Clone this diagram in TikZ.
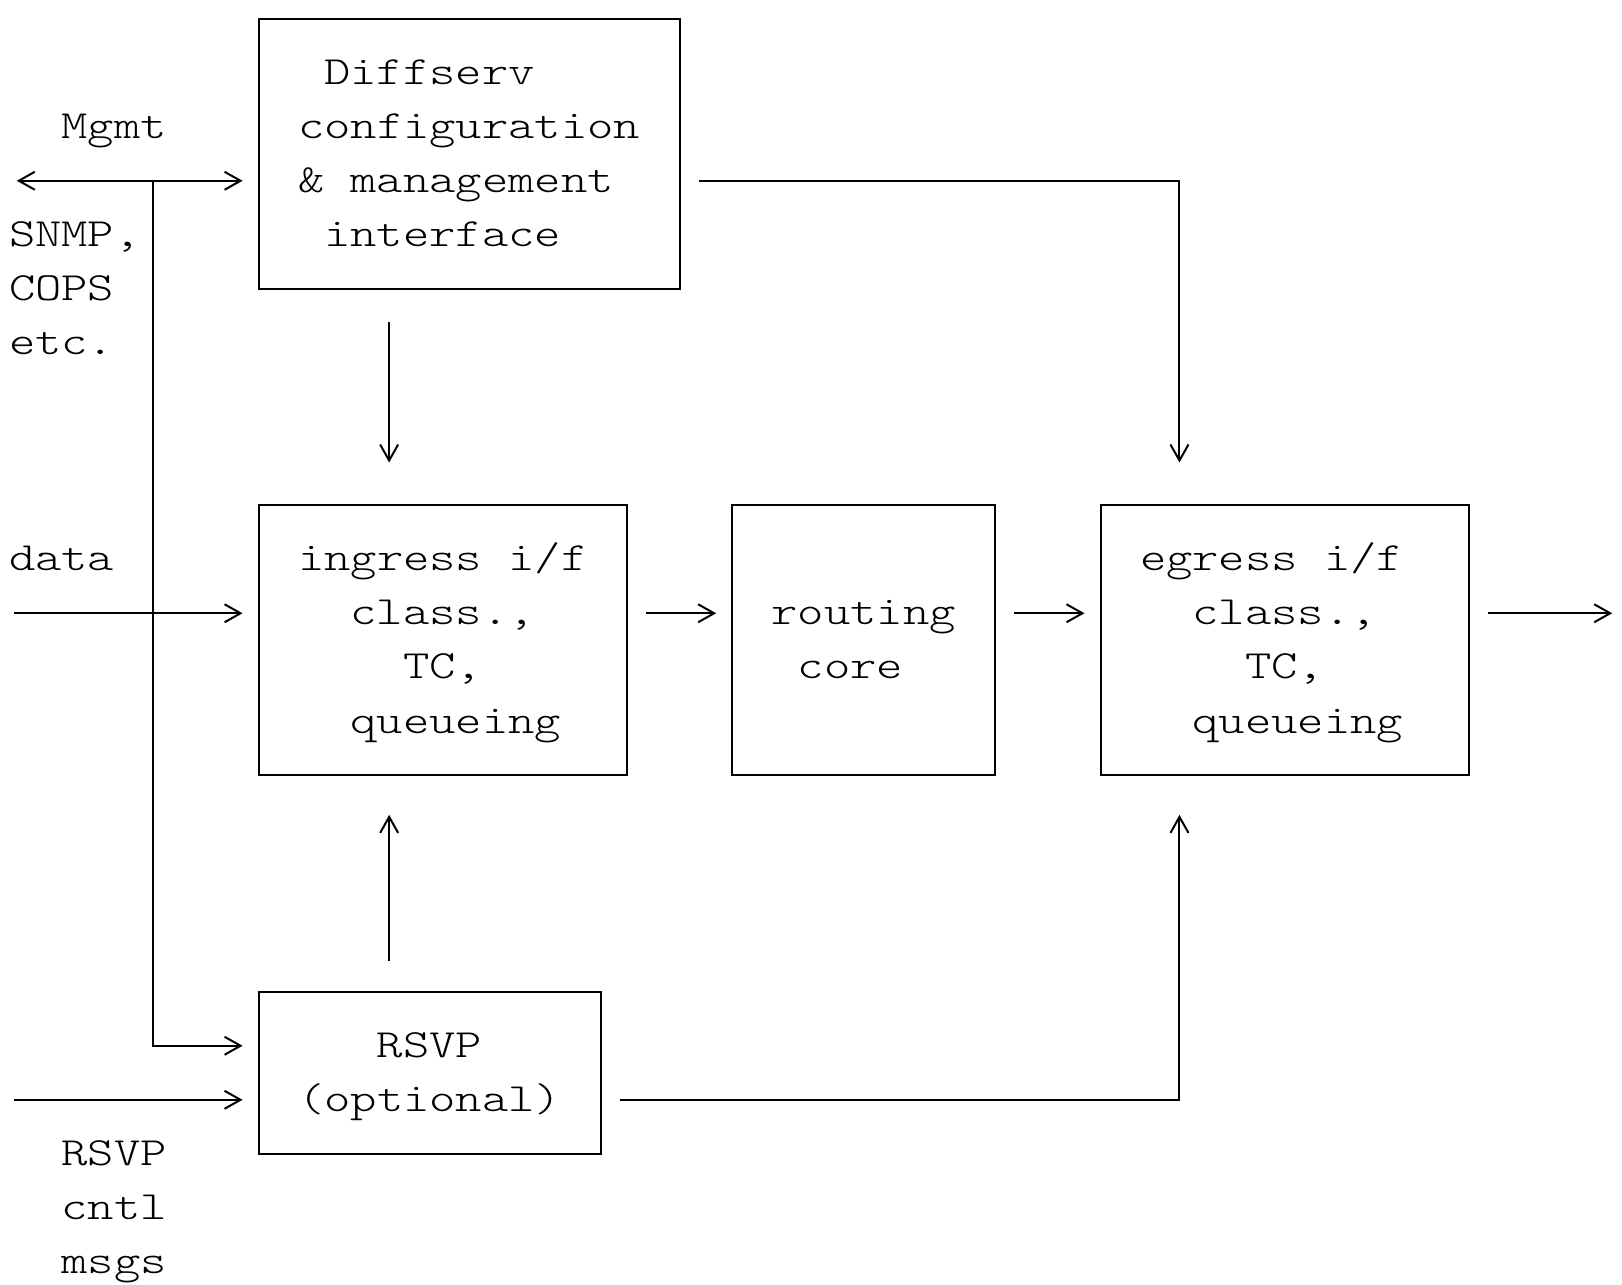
\documentclass[tikz,border=0pt]{standalone}
\usepackage{fontspec}
\usepackage{tikz}
\usetikzlibrary{arrows.meta,calc}

\newfontfamily\asciifont[FakeStretch=1.253]{Latin Modern Mono Light}
\newdimen\cw \cw=13.155pt
\newdimen\rh \rh=27.03pt
\newcommand{\rowstrut}{\rule[-7.7pt]{0pt}{27.03pt}}
\newcommand{\pad}[1]{\kern#1\cw}

\tikzset{
	txt/.style={font=\fontsize{20pt}{27.03pt}\asciifont},
	blk/.style={txt, draw, line width=1pt, inner xsep=1.5\cw, inner ysep=0pt, align=left},
	lbl/.style={txt, inner sep=0pt, anchor=west, align=left},
	wire/.style={line width=1pt, >={Straight Barb[length=8pt,width=9pt]}}
}

\begin{document}
\begin{tikzpicture}[x=13.155pt,y=-27.03pt]
		\useasboundingbox (-0.8286,-0.344) rectangle (60.82,23.41);

		\node[blk, text width=13\cw, minimum height=5\rh] (cfg) at (17,2.5)
			{\rowstrut\pad{1}Diffserv\\\rowstrut configuration\\\rowstrut\&\pad{1}management\\\rowstrut\pad{1}interface};
		\node[blk, text width=11\cw, minimum height=5\rh] (ing) at (16,11.5)
			{\rowstrut ingress\pad{1}i/f\\\rowstrut\pad{2}class.,\\\rowstrut\pad{4}TC,\\\rowstrut\pad{2}queueing};
		\node[blk, text width=7\cw, minimum height=5\rh] (rout) at (32,11.5)
			{\rowstrut routing\\\rowstrut\pad{1}core};
		\node[blk, text width=11\cw, minimum height=5\rh] (egr) at (48,11.5)
			{\rowstrut egress\pad{1}i/f\\\rowstrut\pad{2}class.,\\\rowstrut\pad{4}TC,\\\rowstrut\pad{2}queueing};
		\node[blk, text width=10\cw, minimum height=3\rh] (rsvp) at (15.5,19.5)
			{\rowstrut\pad{3}RSVP\\\rowstrut(optional)};

		\node[lbl] (mgmt) at (1.5,2) {\rowstrut Mgmt};
		\node[lbl] (snmp) at (-0.5,5) {\rowstrut SNMP,\\\rowstrut COPS\\\rowstrut etc.};
		\node[lbl] (data) at (-0.5,10) {\rowstrut data};
		\node[lbl] (cntl) at (1.5,22) {\rowstrut RSVP\\\rowstrut cntl\\\rowstrut msgs};

		\coordinate (mgmtL) at (-0.19,3);
		\coordinate (mgmtJ) at (5,3);
		\coordinate (rsvpJ) at (5,19);
		\coordinate (dataL) at (-0.29,11);
		\coordinate (cntlL) at (-0.29,20);
		\coordinate (cfgR) at (44,3);
		\coordinate (rsvpR) at (44,20);
		\coordinate (outR) at (60.45,11);
		%
		\draw[wire,<->,shorten >=7.5pt] (mgmtL) -- (mgmtL -| cfg.west);
		\draw[wire,->,shorten >=7.5pt] (mgmtJ) -- (rsvpJ) -- (rsvpJ -| rsvp.west);
		\draw[wire,->,shorten >=7.5pt] (dataL) -- (dataL -| ing.west);
		\draw[wire,->,shorten >=7.5pt] (cntlL) -- (cntlL -| rsvp.west);
		\draw[wire,->,shorten <=9pt,shorten >=7.5pt] (dataL -| ing.east) -- (dataL -| rout.west);
		\draw[wire,->,shorten <=9pt,shorten >=7.5pt] (dataL -| rout.east) -- (dataL -| egr.west);
		\draw[wire,->,shorten <=9pt] (outR -| egr.east) -- (outR);
		\draw[wire,->,shorten <=9pt,shorten >=20.8pt] (cfgR -| cfg.east) -- (cfgR) -- (cfgR |- egr.north);
		\draw[wire,->,shorten <=9pt,shorten >=19.2pt] (rsvpR -| rsvp.east) -- (rsvpR) -- (rsvpR |- egr.south);
		\draw[wire,->,shorten <=16pt,shorten >=20.8pt] ($(cfg.south west)+(5,0)$) -- ($(ing.north west)+(5,0)$);
		\draw[wire,->,shorten <=14.9pt,shorten >=19.2pt] ($(rsvp.north west)+(5,0)$) -- ($(ing.south west)+(5,0)$);
	\end{tikzpicture}
\end{document}
